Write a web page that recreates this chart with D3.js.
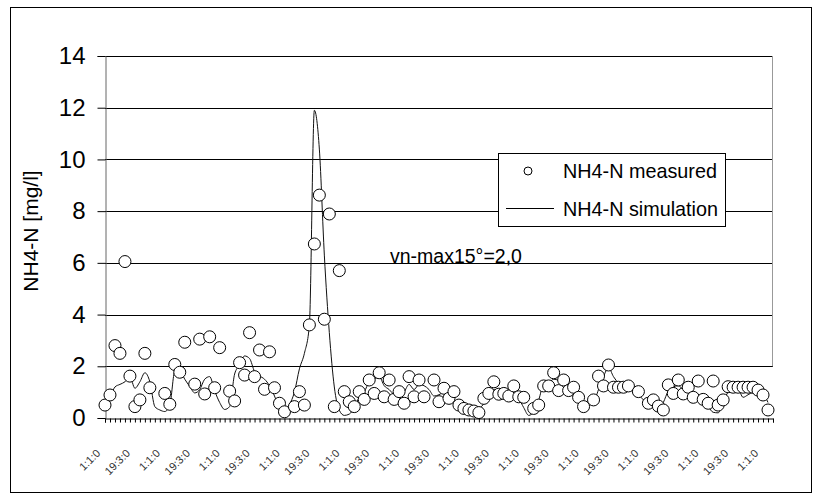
<!DOCTYPE html>
<html><head><meta charset="utf-8">
<script src="https://cdn.jsdelivr.net/npm/d3@7"></script>
<style>body{margin:0;background:#fff}svg{display:block;font-family:Arial,"Liberation Sans",sans-serif}</style>
</head><body><svg id="c" width="822" height="495"></svg>
<script>
const yTicks=[0,2,4,6,8,10,12,14];
const dayCount=134;
const xLabelDays=[0,6,12,18,24,30,36,42,48,54,60,66,72,78,84,90,96,102,108,114,120,126,132];
const xLabels=["1:1:0","19:3:0","1:1:0","19:3:0","1:1:0","19:3:0","1:1:0","19:3:0","1:1:0","19:3:0","1:1:0","19:3:0","1:1:0","19:3:0","1:1:0","19:3:0","1:1:0","19:3:0","1:1:0","19:3:0","1:1:0","19:3:0","1:1:0"];
const measuredDays=[0,1,2,3,4,5,6,7,8,9,12,13,14,15,16,18,19,20,21,22,23,25,26,27,28,29,30,31,32,33,34,35,36,38,39,40,41,42,43,44,45,46,47,48,49,50,51,52,53,54,55,56,57,58,59,60,61,62,63,64,66,67,68,69,70,71,72,73,74,75,76,77,78,79,80,81,82,83,84,86,87,88,89,90,91,92,93,94,95,96,98,99,100,101,102,103,104,105,107,109,110,111,112,113,114,115,116,117,118,119,120,121,122,123,124,125,126,127,128,129,130,131,132,133];
const measuredValues=[0.5,0.89,2.8,2.5,6.05,1.62,0.44,0.7,2.5,1.17,0.95,0.53,2.07,1.77,2.93,1.31,3.05,0.93,3.14,1.17,2.72,1.04,0.66,2.14,1.66,3.3,1.6,2.63,1.11,2.56,1.17,0.57,0.24,0.44,1.02,0.5,3.6,6.73,8.62,3.82,7.89,0.44,5.7,1.02,0.63,0.44,1.02,0.72,1.47,0.95,1.75,0.82,1.47,0.72,1.02,0.57,1.6,0.82,1.47,0.82,1.47,0.63,1.15,0.76,1.02,0.5,0.37,0.31,0.27,0.21,0.76,0.95,1.4,0.92,0.95,0.85,1.24,0.82,0.8,0.37,0.5,1.24,1.24,1.75,1.06,1.47,1.06,1.19,0.8,0.44,0.7,1.62,1.24,2.05,1.19,1.19,1.19,1.24,1.02,0.57,0.7,0.46,0.31,1.28,0.95,1.47,0.93,1.19,0.8,1.43,0.72,0.57,1.43,0.5,0.7,1.21,1.19,1.19,1.19,1.19,1.19,1.08,0.89,0.31];
const simulationValues=[0.58,0.82,1.2,1.3,1.4,1.6,1.15,1.4,1.75,1.4,0.44,0.31,0.25,0.5,1.8,1.85,1.5,1.22,0.97,1.1,1.5,1.6,1.05,0.6,0.33,0.44,1.7,2.05,2.4,2.3,1.8,1.63,1.5,1.25,0.85,0.35,0.05,0.5,1.0,1.9,2.5,3.6,11.9,10.4,6.3,3.3,1.2,0.3,0.1,0.15,0.4,0.8,1.0,1.4,1.5,1.6,1.25,1.1,0.9,0.8,1.0,1.3,1.1,1.3,1.25,1.1,0.85,0.9,1.0,0.85,0.7,0.5,0.35,0.3,0.25,0.35,0.55,0.85,1.1,1.0,0.95,0.9,0.95,0.75,0.4,0.1,0.25,0.7,1.3,1.35,1.5,1.45,1.3,1.05,1.0,0.85,0.6,0.5,0.6,1.1,1.6,1.95,1.6,1.35,1.2,1.15,1.0,0.9,0.7,0.55,0.45,0.3,0.6,1.05,1.2,1.25,1.1,1.0,0.95,0.85,0.7,0.45,0.22,0.2,0.6,1.0,1.1,1.1,0.8,0.9,1.0,1.05,0.95,0.6];
const seriesNames=["NH4-N measured","NH4-N simulation"];
const yTitle="NH4-N [mg/l]";
const note="vn-max15°=2,0";

const svg=d3.select("#c");
svg.append("rect").attr("width",822).attr("height",495).attr("fill","#fff");
svg.append("rect").attr("x",10.5).attr("y",7.5).attr("width",801).attr("height",485).attr("fill","none").attr("stroke","#000");

const x=d3.scaleLinear().domain([0,dayCount]).range([105,773]);
const y=d3.scaleLinear().domain([0,14]).range([418,56]);

// grid
svg.append("g").selectAll("line").data(yTicks.filter(d=>d>0)).join("line")
  .attr("x1",105).attr("x2",773).attr("y1",d=>Math.round(y(d))+0.5).attr("y2",d=>Math.round(y(d))+0.5)
  .attr("stroke","#000").attr("stroke-width",1);
// right border of plot area
svg.append("line").attr("x1",772.5).attr("x2",772.5).attr("y1",y(14)).attr("y2",y(2))
  .attr("stroke","#999");

// y axis
const ya=svg.append("g").attr("transform","translate(105.5,0)")
  .call(d3.axisLeft(y).tickValues(yTicks).tickSize(8).tickPadding(12).tickFormat(d3.format("d")));
ya.select(".domain").attr("stroke","#666");
ya.selectAll(".tick line").attr("stroke","#000");
ya.selectAll("text").attr("font-size",24).attr("fill","#000").attr("font-family","Arial, 'Liberation Sans', sans-serif");

// x axis
const xa=svg.append("g").attr("transform",`translate(0,${Math.round(y(0))+0.5})`)
  .call(d3.axisBottom(x).tickValues(d3.range(0,dayCount+1)).tickSize(4).tickFormat(""));
xa.select(".domain").attr("stroke","#000");
xa.selectAll(".tick line").attr("stroke","#000");

svg.append("g").selectAll("text").data(xLabelDays).join("text")
  .attr("transform",d=>`translate(${x(d)-4},${454}) rotate(-45)`)
  .attr("text-anchor","end").attr("font-size",11).attr("fill","#333")
  .text((d,i)=>xLabels[i]);

// y title
svg.append("text").attr("transform","translate(38,231) rotate(-90)")
  .attr("text-anchor","middle").attr("font-size",21).attr("fill","#000").text(yTitle);

// simulation line
const line=d3.line().x((d,i)=>x(i)).y(d=>y(d)).curve(d3.curveMonotoneX);
svg.append("path").datum(simulationValues).attr("d",line)
  .attr("fill","none").attr("stroke","#111").attr("stroke-width",1);

// measured markers
const measured=measuredDays.map((d,i)=>({d,v:measuredValues[i]}));
svg.append("g").selectAll("circle").data(measured).join("circle")
  .attr("cx",p=>x(p.d)).attr("cy",p=>y(p.v)).attr("r",6)
  .attr("fill","#fff").attr("stroke","#000").attr("stroke-width",1);

// note
svg.append("text").attr("x",390).attr("y",y(6)).attr("font-size",19.5).attr("fill","#000").text(note);

// legend
const lg=svg.append("g");
lg.append("rect").attr("x",498.5).attr("y",153.5).attr("width",227).attr("height",73)
  .attr("fill","#fff").attr("stroke","#000");
lg.append("circle").attr("cx",528).attr("cy",171).attr("r",4).attr("fill","#fff").attr("stroke","#000");
lg.append("text").attr("x",563).attr("y",178).attr("font-size",19.8).text(seriesNames[0]);
lg.append("line").attr("x1",506).attr("x2",554).attr("y1",208.5).attr("y2",208.5).attr("stroke","#000");
lg.append("text").attr("x",563).attr("y",216).attr("font-size",19.8).text(seriesNames[1]);
</script></body></html>
